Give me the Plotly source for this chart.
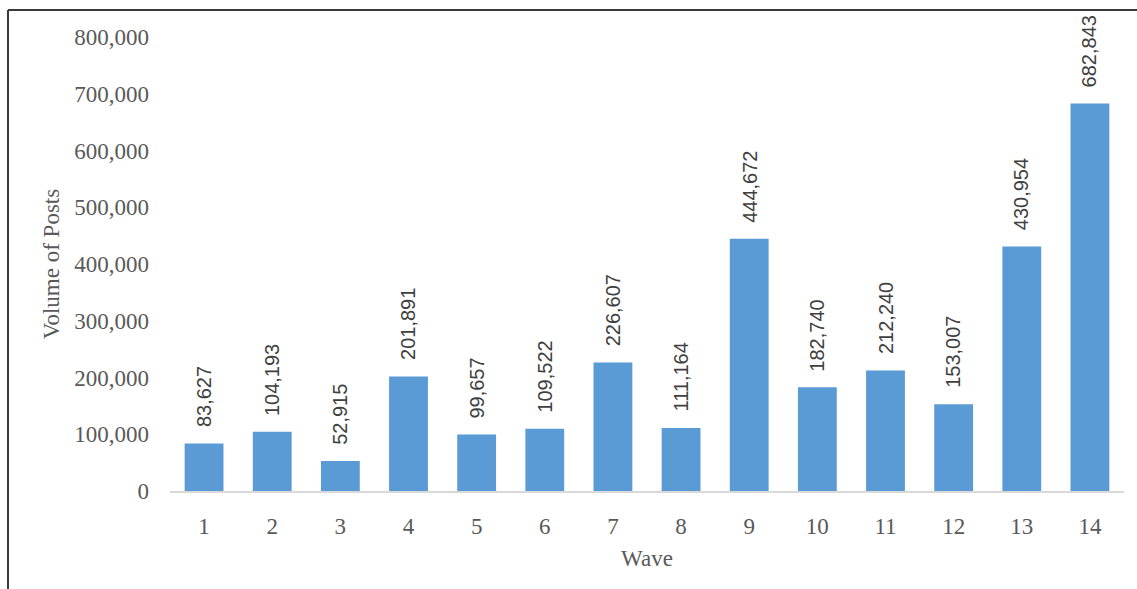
import plotly.graph_objects as go

waves = list(range(1, 15))
posts = [83627, 104193, 52915, 201891, 99657, 109522, 226607,
         111164, 444672, 182740, 212240, 153007, 430954, 682843]
y_ticks = [0, 100000, 200000, 300000, 400000, 500000, 600000, 700000, 800000]

W, H = 1137, 589
ML, MR, MT, MB = 170, 13, 37, 98
plot_w = W - ML - MR
plot_h = H - MT - MB

font_family = "Liberation Serif, Times New Roman, serif"
label_family = "Liberation Sans, Arial, sans-serif"
grey = "#595959"

fig = go.Figure(go.Bar(
    x=waves, y=posts,
    marker=dict(color="#5b9bd5", line=dict(width=0)),
    width=0.57,
))

# value labels above each bar
for w, v in zip(waves, posts):
    fig.add_annotation(
        x=w, y=v, text=f"{v:,}", textangle=-90,
        showarrow=False, xanchor="center", yanchor="bottom", yshift=14,
        font=dict(family=label_family, size=20, color="#404040"),
    )

# outer frame (left and top edges)
def px_x(p):
    return (p - ML) / plot_w

def px_y(p):
    return (H - MB - p) / plot_h

frame = dict(color="#3a3a3a", width=2)
fig.add_shape(type="line", xref="paper", yref="paper",
              x0=px_x(8), x1=px_x(8), y0=px_y(10), y1=px_y(H + 5), line=frame)
fig.add_shape(type="line", xref="paper", yref="paper",
              x0=px_x(8), x1=px_x(W + 5), y0=px_y(10), y1=px_y(10), line=frame)

fig.update_layout(
    width=W, height=H,
    margin=dict(l=ML, r=MR, t=MT, b=MB),
    paper_bgcolor="white", plot_bgcolor="white",
    showlegend=False,
    font=dict(family=font_family, size=23, color=grey),
    xaxis=dict(
        range=[0.5, 14.5], tickmode="array", tickvals=waves,
        ticktext=[str(w) for w in waves],
        showgrid=False, zeroline=False,
        showline=True, linecolor="#d9d9d9", linewidth=1.5,
        ticks="", ticklabelstandoff=14,
        title=dict(text="Wave", font=dict(size=23, color=grey), standoff=12),
    ),
    yaxis=dict(
        range=[0, 800000], tickmode="array", tickvals=y_ticks,
        ticktext=[f"{t:,}" for t in y_ticks],
        showgrid=False, zeroline=False, showline=False,
        ticks="", ticklabelstandoff=20,
        title=dict(text="Volume of Posts", font=dict(size=23, color=grey), standoff=8),
    ),
)

fig.write_html("out.html")
